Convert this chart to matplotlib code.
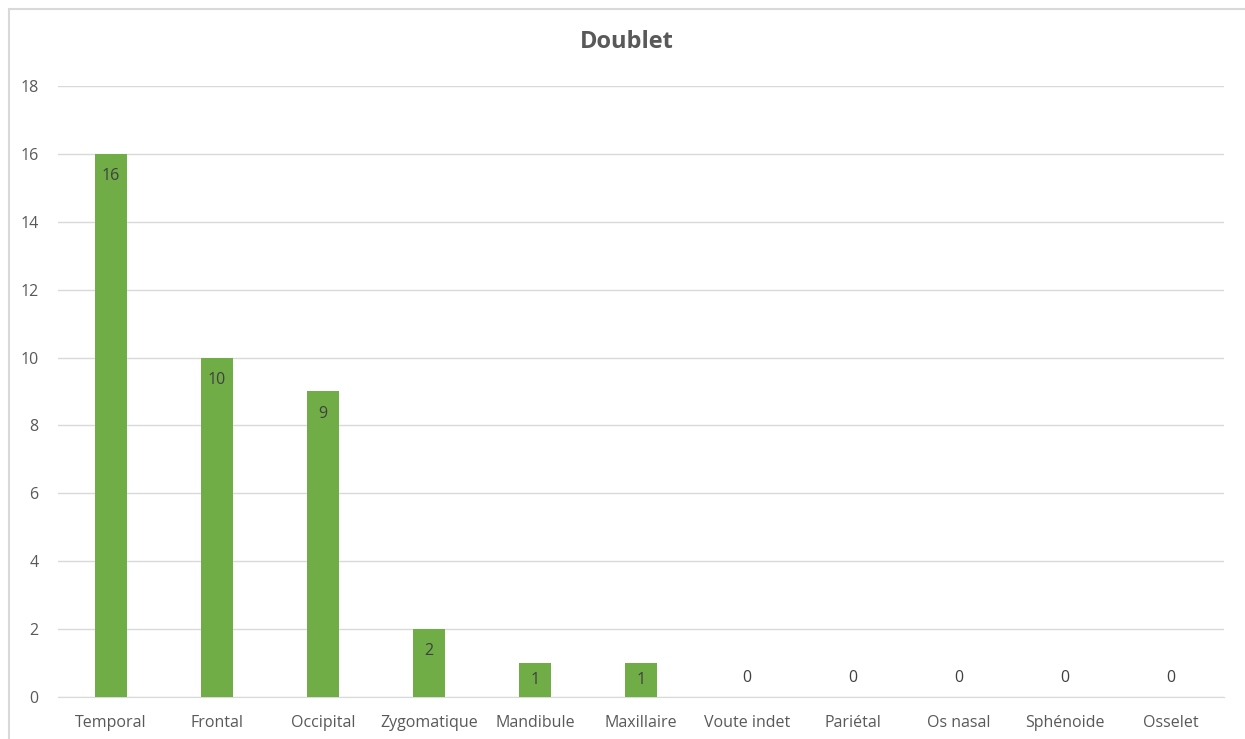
import matplotlib
matplotlib.use('Agg')
import matplotlib.pyplot as plt
from matplotlib.patches import Rectangle

# Données
categories = ['Temporal', 'Frontal', 'Occipital', 'Zygomatique', 'Mandibule',
              'Maxillaire', 'Voute indet', 'Pariétal', 'Os nasal', 'Sphénoide', 'Osselet']
valeurs = [16, 10, 9, 2, 1, 1, 0, 0, 0, 0, 0]
yticks = [0, 2, 4, 6, 8, 10, 12, 14, 16, 18]

plt.rcParams['font.family'] = ['Open Sans', 'DejaVu Sans']

W, H = 1245, 739
fig = plt.figure(figsize=(W / 100, H / 100), dpi=100)

# cadre du graphique (coupé en bas et à droite)
fig.patches.append(Rectangle((9 / W, -0.1), 1.2, 1.1 - 9 / H, transform=fig.transFigure,
                             fill=False, edgecolor='#D9D9D9', linewidth=1.5))

ax = fig.add_axes([58 / W, 42 / H, (1224 - 58) / W, 611 / H])
x = range(len(categories))
bars = ax.bar(x, valeurs, width=0.31, color='#70AD47', zorder=3)

for b, v in zip(bars, valeurs):
    if v > 1:
        y = v - 0.65
    elif v == 1:
        y = 0.5
    else:
        y = 0.55
    ax.text(b.get_x() + b.get_width() / 2, y, str(v),
            ha='center', va='center', fontsize=11.5, color='#404040', zorder=4)

ax.set_ylim(0, 18)
ax.set_xlim(-0.5, len(categories) - 0.5)
ax.set_yticks(yticks)
ax.set_xticks(list(x))
ax.set_xticklabels(categories)
ax.yaxis.grid(True, color='#D9D9D9', linewidth=1, zorder=0)
for s in ['top', 'right', 'left']:
    ax.spines[s].set_visible(False)
ax.spines['bottom'].set_color('#D9D9D9')
ax.tick_params(axis='both', length=0, colors='#595959', labelsize=11.5)
ax.tick_params(axis='x', pad=13)
ax.tick_params(axis='y', pad=14)

fig.text(627 / W, 1 - 42 / H, 'Doublet', ha='center', va='center',
         fontsize=17, fontweight='bold', color='#595959')

plt.savefig('out.png', dpi=100)
